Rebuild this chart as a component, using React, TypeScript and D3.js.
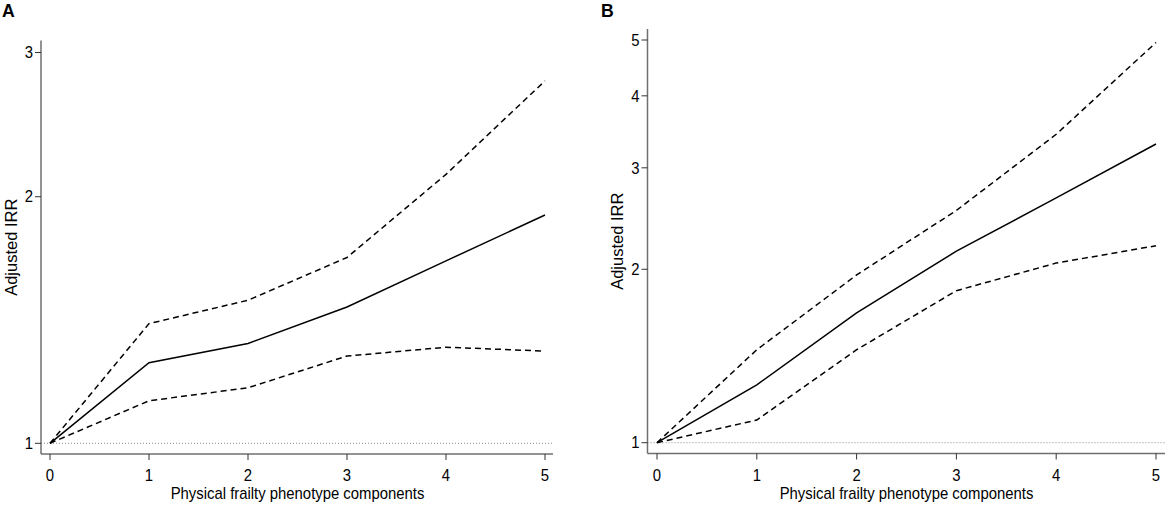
import * as d3 from "d3";

// Number of physical frailty phenotype components (x axis)
const components = [0, 1, 2, 3, 4, 5];

// Panel A: adjusted IRR with 95% CI
const irrA = [1, 1.254, 1.324, 1.467, 1.67, 1.9];
const upperA = [1, 1.4, 1.495, 1.686, 2.13, 2.77];
const lowerA = [1, 1.127, 1.169, 1.278, 1.31, 1.296];

// Panel B: adjusted IRR with 95% CI
const irrB = [1, 1.26, 1.68, 2.15, 2.66, 3.3];
const upperB = [1, 1.45, 1.955, 2.53, 3.43, 4.95];
const lowerB = [1, 1.095, 1.45, 1.836, 2.05, 2.197];

const yTicksA = [1, 2, 3];
const yTicksB = [1, 2, 3, 4, 5];

const xTitle = "Physical frailty phenotype components";
const yTitle = "Adjusted IRR";

const font = "'Liberation Sans', Arial, sans-serif";
const axisColor = "#6f6f6f";
// the original text looks a bit narrow, squeeze it horizontally
const squeeze = 0.93;

interface LabelProps {
	x: number;
	y: number;
	size: number;
	anchor?: string;
	dy?: string;
	bold?: boolean;
	children: React.ReactNode;
}

function Label(props: LabelProps) {
	const { x, y, size, anchor = "start", dy, bold, children } = props;
	return (
		<text
			transform={`translate(${x}, ${y}) scale(${squeeze}, 1)`}
			textAnchor={anchor}
			dy={dy}
			fontSize={size}
			fontWeight={bold ? "bold" : "normal"}
			fill="#000"
		>
			{children}
		</text>
	);
}

interface PanelProps {
	label: string;
	irr: number[];
	upper: number[];
	lower: number[];
	yTicks: number[];
	xRange: [number, number];
	yRange: [number, number];
	axisLeft: number;
	axisBottom: number;
	axisTop: number;
	axisRight: number;
	labelX: number;
	titleX: number;
}

function Panel(props: PanelProps) {
	const { label, irr, upper, lower, yTicks, xRange, yRange, axisLeft, axisBottom, axisTop, axisRight, labelX, titleX } = props;

	const x = d3.scaleLinear().domain([0, 5]).range(xRange);
	const y = d3
		.scaleLog()
		.domain([yTicks[0], yTicks[yTicks.length - 1]])
		.range(yRange);

	const line = d3
		.line<number>()
		.x((_, i) => x(components[i]))
		.y((d) => y(d));

	const midX = (xRange[0] + xRange[1]) / 2;
	const midY = (axisTop + axisBottom) / 2;

	return (
		<g fontFamily={font}>
			<Label x={labelX} y={17} size={19} bold>
				{label}
			</Label>

			{/* reference line at IRR = 1 */}
			<line
				x1={axisLeft}
				x2={axisRight}
				y1={y(1)}
				y2={y(1)}
				stroke="#8a8a8a"
				strokeWidth={1}
				strokeDasharray="1,2"
			/>

			{/* y axis */}
			<line x1={axisLeft} x2={axisLeft} y1={axisTop} y2={axisBottom} stroke={axisColor} strokeWidth={1.5} />
			{yTicks.map((t) => (
				<g key={t}>
					<line x1={axisLeft - 6} x2={axisLeft} y1={y(t)} y2={y(t)} stroke="#333" strokeWidth={1} />
					<Label x={axisLeft - 8} y={y(t)} dy="0.36em" anchor="end" size={16}>
						{t}
					</Label>
				</g>
			))}
			<text
				transform={`translate(${titleX}, ${midY}) rotate(-90)`}
				textAnchor="middle"
				dy="0.36em"
				fontSize={16.5}
				fill="#000"
			>
				{yTitle}
			</text>

			{/* x axis */}
			<line x1={axisLeft} x2={axisRight} y1={axisBottom} y2={axisBottom} stroke={axisColor} strokeWidth={1.5} />
			{components.map((c) => (
				<g key={c}>
					<line x1={x(c)} x2={x(c)} y1={axisBottom} y2={axisBottom + 6} stroke="#333" strokeWidth={1} />
					<Label x={x(c)} y={480.5} anchor="middle" size={16}>
						{c}
					</Label>
				</g>
			))}
			<Label x={midX} y={499} anchor="middle" size={16}>
				{xTitle}
			</Label>

			{/* confidence bounds and estimate */}
			<path d={line(upper) ?? ""} fill="none" stroke="#000" strokeWidth={1.5} strokeDasharray="6,4" />
			<path d={line(lower) ?? ""} fill="none" stroke="#000" strokeWidth={1.5} strokeDasharray="6,4" />
			<path d={line(irr) ?? ""} fill="none" stroke="#000" strokeWidth={1.5} />
		</g>
	);
}

export default function App() {
	return (
		<svg width={1170} height={507} style={{ position: "absolute", left: 0, top: 0, background: "#fff" }}>
			<Panel
				label="A"
				irr={irrA}
				upper={upperA}
				lower={lowerA}
				yTicks={yTicksA}
				xRange={[50, 545]}
				yRange={[443.3, 52.5]}
				axisLeft={41}
				axisBottom={454}
				axisTop={40.5}
				axisRight={553}
				labelX={2}
				titleX={11}
			/>
			<Panel
				label="B"
				irr={irrB}
				upper={upperB}
				lower={lowerB}
				yTicks={yTicksB}
				xRange={[657, 1156]}
				yRange={[442.7, 40]}
				axisLeft={647.5}
				axisBottom={453.5}
				axisTop={29}
				axisRight={1165}
				labelX={601}
				titleX={617}
			/>
		</svg>
	);
}
